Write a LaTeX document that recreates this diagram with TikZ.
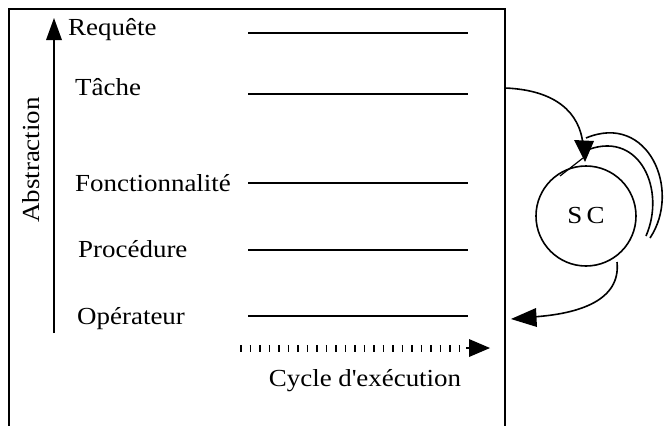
\documentclass[tikz,border=0pt]{standalone}
\usepackage{fontspec}
\setmainfont{Liberation Serif}[FakeStretch=1.1]
\usetikzlibrary{arrows.meta}
\begin{document}
\begin{tikzpicture}[x=1pt,y=-1pt,
  frameline/.style={line width=1.8pt},
  levelline/.style={line width=1.4pt},
  txt/.style={font=\fontsize{24.5}{28}\selectfont, inner sep=0pt},
  lbl/.style={txt, anchor=base west},
  tipfill/.style={fill=black},
  conn/.style={line width=1.6pt}
]
\useasboundingbox (0,0) rectangle (665,426);
% frame
\coordinate (fbl) at (9,430);
\coordinate (ftl) at (9,9);
\coordinate (ftr) at (505,9);
\coordinate (fbr) at (505,430);
\draw[frameline] (fbl) -- (ftl) -- (ftr) -- (fbr);
% abstraction axis
\coordinate (ab) at (54,333);
\coordinate (at) at (54,36);
\draw[conn] (ab) -- (at);
\fill[tipfill] (54,18) -- (46,40) -- (62,40) -- cycle;
\node[txt, rotate=90] (abs) at (31,160) {Abstraction};
% levels
\node[lbl] (req) at (68,35) {Requête};
\node[lbl] (tac) at (75,95) {Tâche};
\node[lbl] (fon) at (75,191) {Fonctionnalité};
\node[lbl] (pro) at (78,257) {Procédure};
\node[lbl] (ope) at (77,324) {Opérateur};
\foreach \n/\y in {r/33,t/94,f/183,p/250,o/316}{
  \coordinate (\n a) at (248,\y);
  \coordinate (\n b) at (468,\y);
  \draw[levelline] (\n a) -- (\n b);
}
% execution cycle
\coordinate (ca) at (240,348);
\coordinate (cb) at (466,348);
\coordinate (cc) at (474,348);
\draw[line width=7pt, dash pattern=on 1.6pt off 7.9pt] (ca) -- (cb);
\draw[line width=1.4pt] (cb) -- (cc);
\fill[tipfill] (490,348) -- (469,339) -- (469,357) -- cycle;
\node[txt] (cyc) at (365,381) {Cycle d\textquotesingle exécution};
% SC circle
\node[circle, draw, line width=1.6pt, minimum size=100pt, inner sep=0pt, txt] (sc) at (586,216) {S\,C};
% stacked arcs
\coordinate (a2s) at (590,149);
\coordinate (a2e) at (646,236);
\coordinate (a3s) at (586,138);
\coordinate (a3e) at (650,238);
\draw[conn] (a2s) .. controls (640,132) and (666,190) .. (a2e);
\draw[conn] (a3s) .. controls (648,112) and (682,190) .. (a3e);
% incoming arrow
\coordinate (in0) at (505,88);
\coordinate (in1) at (583,145);
\draw[conn] (in0) .. controls (555,90) and (580,112) .. (in1);
\fill[tipfill] (585,162) -- (574,140) -- (594,141) -- cycle;
\coordinate (in2) at (583,158);
\coordinate (tg) at (560,176);
\draw[line width=1.2pt] (in2) -- (tg);
% outgoing arrow
\coordinate (out0) at (617,262);
\coordinate (out1) at (532,317);
\draw[conn] (out0) .. controls (621,300) and (580,314) .. (out1);
\fill[tipfill] (511,319) -- (536,308) -- (537,327) -- cycle;
\end{tikzpicture}
\end{document}
